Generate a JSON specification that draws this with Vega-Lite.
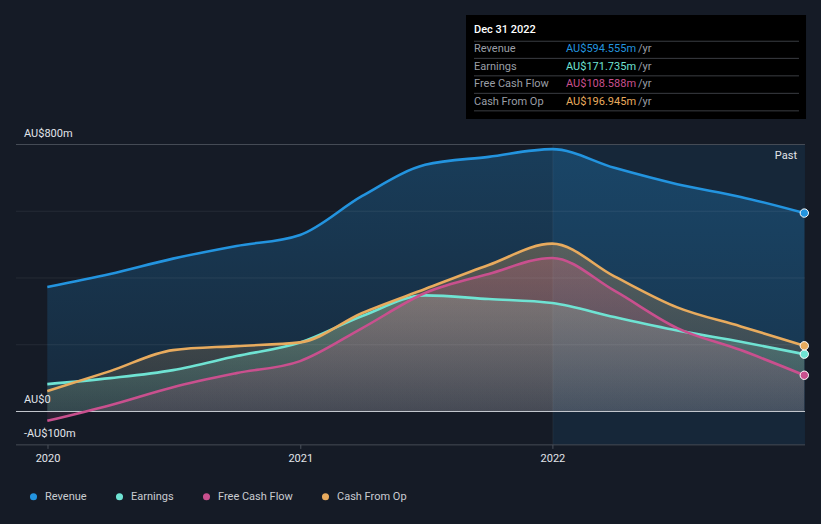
{
  "$schema": "https://vega.github.io/schema/vega-lite/v6.json",
  "width": 821,
  "height": 524,
  "autosize": {"type": "fit", "contains": "padding"},
  "padding": 0,
  "background": "#151b26",
  "config": {
    "view": {"stroke": null},
    "font": "Roboto",
    "locale": {"number": {"decimal": ".", "thousands": ",", "grouping": [3], "currency": ["AU$", "m"]}}
  },
  "datasets": {
    "fin": [
      {"date": "2019-12-31", "series": "Revenue", "value": 373},
      {"date": "2020-03-31", "series": "Revenue", "value": 412},
      {"date": "2020-06-30", "series": "Revenue", "value": 458},
      {"date": "2020-09-30", "series": "Revenue", "value": 496},
      {"date": "2020-12-31", "series": "Revenue", "value": 529},
      {"date": "2021-03-31", "series": "Revenue", "value": 646},
      {"date": "2021-06-30", "series": "Revenue", "value": 739},
      {"date": "2021-09-30", "series": "Revenue", "value": 763},
      {"date": "2021-12-31", "series": "Revenue", "value": 786},
      {"date": "2022-03-31", "series": "Revenue", "value": 730},
      {"date": "2022-06-30", "series": "Revenue", "value": 681},
      {"date": "2022-09-30", "series": "Revenue", "value": 643},
      {"date": "2022-12-31", "series": "Revenue", "value": 594.555},
      {"date": "2019-12-31", "series": "Earnings", "value": 82},
      {"date": "2020-03-31", "series": "Earnings", "value": 100},
      {"date": "2020-06-30", "series": "Earnings", "value": 124},
      {"date": "2020-09-30", "series": "Earnings", "value": 166},
      {"date": "2020-12-31", "series": "Earnings", "value": 207},
      {"date": "2021-03-31", "series": "Earnings", "value": 286},
      {"date": "2021-06-30", "series": "Earnings", "value": 348},
      {"date": "2021-09-30", "series": "Earnings", "value": 337},
      {"date": "2021-12-31", "series": "Earnings", "value": 325},
      {"date": "2022-03-31", "series": "Earnings", "value": 283},
      {"date": "2022-06-30", "series": "Earnings", "value": 243},
      {"date": "2022-09-30", "series": "Earnings", "value": 209},
      {"date": "2022-12-31", "series": "Earnings", "value": 171.735},
      {"date": "2019-12-31", "series": "Free Cash Flow", "value": -28},
      {"date": "2020-03-31", "series": "Free Cash Flow", "value": 19},
      {"date": "2020-06-30", "series": "Free Cash Flow", "value": 73},
      {"date": "2020-09-30", "series": "Free Cash Flow", "value": 115},
      {"date": "2020-12-31", "series": "Free Cash Flow", "value": 151},
      {"date": "2021-03-31", "series": "Free Cash Flow", "value": 250},
      {"date": "2021-06-30", "series": "Free Cash Flow", "value": 355},
      {"date": "2021-09-30", "series": "Free Cash Flow", "value": 412},
      {"date": "2021-12-31", "series": "Free Cash Flow", "value": 460},
      {"date": "2022-03-31", "series": "Free Cash Flow", "value": 362},
      {"date": "2022-06-30", "series": "Free Cash Flow", "value": 250},
      {"date": "2022-09-30", "series": "Free Cash Flow", "value": 184},
      {"date": "2022-12-31", "series": "Free Cash Flow", "value": 108.588},
      {"date": "2019-12-31", "series": "Cash From Op", "value": 61},
      {"date": "2020-03-31", "series": "Cash From Op", "value": 121},
      {"date": "2020-06-30", "series": "Cash From Op", "value": 184},
      {"date": "2020-09-30", "series": "Cash From Op", "value": 196},
      {"date": "2020-12-31", "series": "Cash From Op", "value": 207},
      {"date": "2021-03-31", "series": "Cash From Op", "value": 295},
      {"date": "2021-06-30", "series": "Cash From Op", "value": 367},
      {"date": "2021-09-30", "series": "Cash From Op", "value": 439},
      {"date": "2021-12-31", "series": "Cash From Op", "value": 503},
      {"date": "2022-03-31", "series": "Cash From Op", "value": 405},
      {"date": "2022-06-30", "series": "Cash From Op", "value": 312},
      {"date": "2022-09-30", "series": "Cash From Op", "value": 255},
      {"date": "2022-12-31", "series": "Cash From Op", "value": 196.945}
    ],
    "grid": [
      {"v": -100, "label": "-AU$100m"},
      {"v": 0, "label": "AU$0"},
      {"v": 200, "label": ""},
      {"v": 400, "label": ""},
      {"v": 600, "label": ""},
      {"v": 800, "label": "AU$800m"}
    ],
    "xticks": [
      {"date": "2020-01-01", "label": "2020"},
      {"date": "2021-01-01", "label": "2021"},
      {"date": "2022-01-01", "label": "2022"}
    ],
    "one": [{}]
  },
  "layer": [
    {
      "data": {"name": "one"},
      "mark": {"type": "rect", "color": "#2394df", "opacity": 0.1},
      "encoding": {
        "x": {"datum": {"year": 2022, "month": 1, "date": 1, "utc": true}, "type": "temporal",
              "scale": {"domain": [{"year": 2019, "month": 10, "date": 23, "hours": 12, "minutes": 7, "utc": true}, {"year": 2023, "month": 1, "date": 24, "hours": 4, "utc": true}], "nice": false},
              "axis": null},
        "x2": {"datum": {"year": 2023, "month": 1, "date": 1, "utc": true}},
        "y": {"datum": -100, "type": "quantitative", "scale": {"domain": [-337.08, 1232.96], "nice": false, "zero": false}, "axis": null},
        "y2": {"datum": 800}
      }
    },
    {
      "data": {"name": "fin"},
      "transform": [{"filter": "datum.series === 'Revenue'"}],
      "mark": {"type": "area", "interpolate": "monotone",
               "color": {"gradient": "linear", "x1": 0, "y1": 0, "x2": 0, "y2": 1,
                         "stops": [{"offset": 0, "color": "rgba(35,148,223,0.28)"}, {"offset": 1, "color": "rgba(35,148,223,0.12)"}]}},
      "encoding": {
        "x": {"field": "date", "type": "temporal"},
        "y": {"field": "value", "type": "quantitative", "stack": null}
      }
    },
    {
      "data": {"name": "fin"},
      "transform": [{"filter": "datum.series === 'Earnings'"}],
      "mark": {"type": "area", "interpolate": "monotone",
               "color": {"gradient": "linear", "x1": 0, "y1": 0, "x2": 0, "y2": 1,
                         "stops": [{"offset": 0, "color": "rgba(111,227,211,0.3)"}, {"offset": 1, "color": "rgba(111,227,211,0.1)"}]}},
      "encoding": {
        "x": {"field": "date", "type": "temporal"},
        "y": {"field": "value", "type": "quantitative", "stack": null}
      }
    },
    {
      "data": {"name": "fin"},
      "transform": [{"filter": "datum.series === 'Free Cash Flow'"}],
      "mark": {"type": "area", "interpolate": "monotone",
               "color": {"gradient": "linear", "x1": 0, "y1": 0, "x2": 0, "y2": 1,
                         "stops": [{"offset": 0, "color": "rgba(201,80,142,0.3)"}, {"offset": 1, "color": "rgba(201,80,142,0.1)"}]}},
      "encoding": {
        "x": {"field": "date", "type": "temporal"},
        "y": {"field": "value", "type": "quantitative", "stack": null}
      }
    },
    {
      "data": {"name": "fin"},
      "transform": [{"filter": "datum.series === 'Cash From Op'"}],
      "mark": {"type": "area", "interpolate": "monotone",
               "color": {"gradient": "linear", "x1": 0, "y1": 0, "x2": 0, "y2": 1,
                         "stops": [{"offset": 0, "color": "rgba(232,171,94,0.3)"}, {"offset": 1, "color": "rgba(232,171,94,0.1)"}]}},
      "encoding": {
        "x": {"field": "date", "type": "temporal"},
        "y": {"field": "value", "type": "quantitative", "stack": null}
      }
    },
    {
      "data": {"name": "one"},
      "mark": {"type": "rule", "color": "#ffffff", "opacity": 0.06, "strokeWidth": 1},
      "encoding": {
        "x": {"datum": {"year": 2022, "month": 1, "date": 1, "utc": true}, "type": "temporal"},
        "y": {"datum": -100, "type": "quantitative"},
        "y2": {"datum": 800}
      }
    },
    {
      "data": {"name": "grid"},
      "mark": {"type": "rule", "strokeWidth": 1},
      "encoding": {
        "x": {"datum": {"year": 2019, "month": 11, "date": 15, "hours": 16, "utc": true}, "type": "temporal"},
        "x2": {"datum": {"year": 2023, "month": 1, "date": 1, "utc": true}},
        "y": {"field": "v", "type": "quantitative"},
        "color": {"condition": [{"test": "datum.v === 0", "value": "#c5c9cf"}, {"test": "datum.v === 800 || datum.v === -100", "value": "#454b55"}], "value": "#ffffff"},
        "opacity": {"condition": {"test": "datum.v === 0 || datum.v === 800 || datum.v === -100", "value": 1}, "value": 0.07}
      }
    },
    {
      "data": {"name": "fin"},
      "mark": {"type": "line", "interpolate": "monotone", "strokeWidth": 2.6},
      "encoding": {
        "x": {"field": "date", "type": "temporal"},
        "y": {"field": "value", "type": "quantitative"},
        "color": {
          "field": "series", "type": "nominal",
          "scale": {"domain": ["Revenue", "Earnings", "Free Cash Flow", "Cash From Op"], "range": ["#2394df", "#6fe3d3", "#c9508e", "#e8ab5e"]},
          "legend": {
            "orient": "none", "legendX": 28, "legendY": 491, "direction": "horizontal", "title": null,
            "symbolType": "circle", "symbolSize": 50, "symbolStrokeWidth": 0,
            "labelFontSize": 11, "labelColor": "#c9ccd1", "labelFont": "Roboto",
            "columnPadding": 27, "labelOffset": 6, "padding": 0,
            "encode": {"symbols": {"update": {"fill": {"scale": "color", "field": "value"}, "fillOpacity": {"value": 1}, "stroke": {"value": "transparent"}}}}
          }
        }
      }
    },
    {
      "data": {"name": "fin"},
      "transform": [{"filter": "utcyear(datum.date) === 2022 && utcmonth(datum.date) === 11 && utcdate(datum.date) === 31"}],
      "mark": {"type": "circle", "size": 70, "stroke": "#ffffff", "strokeWidth": 1, "opacity": 1},
      "encoding": {
        "x": {"field": "date", "type": "temporal"},
        "y": {"field": "value", "type": "quantitative"},
        "color": {"field": "series", "type": "nominal"}
      }
    },
    {
      "data": {"name": "grid"},
      "transform": [{"filter": "datum.label !== ''"}],
      "mark": {"type": "text", "align": "left", "baseline": "alphabetic", "dy": -8, "fontSize": 11, "color": "#e2e5ea", "font": "Roboto"},
      "encoding": {
        "x": {"datum": {"year": 2019, "month": 11, "date": 27, "hours": 6, "utc": true}, "type": "temporal"},
        "y": {"field": "v", "type": "quantitative"},
        "text": {"field": "label"}
      }
    },
    {
      "data": {"name": "xticks"},
      "mark": {"type": "rule", "color": "#4b515b", "strokeWidth": 1},
      "encoding": {
        "x": {"field": "date", "type": "temporal"},
        "y": {"datum": -100, "type": "quantitative"},
        "y2": {"datum": -112}
      }
    },
    {
      "data": {"name": "xticks"},
      "mark": {"type": "text", "align": "center", "baseline": "alphabetic", "dy": 17, "fontSize": 11, "color": "#e2e5ea", "font": "Roboto"},
      "encoding": {
        "x": {"field": "date", "type": "temporal"},
        "y": {"datum": -100, "type": "quantitative"},
        "text": {"field": "label"}
      }
    },
    {
      "data": {"name": "one"},
      "mark": {"type": "text", "text": "Past", "align": "right", "baseline": "middle", "fontSize": 11, "color": "#e2e5ea", "font": "Roboto"},
      "encoding": {
        "x": {"datum": {"year": 2022, "month": 12, "date": 20, "hours": 10, "utc": true}, "type": "temporal"},
        "y": {"datum": 765.5, "type": "quantitative"}
      }
    },
    {
      "data": {"name": "one"},
      "mark": {"type": "rect", "color": "#000000", "opacity": 1},
      "encoding": {
        "x": {"datum": {"year": 2021, "month": 8, "date": 28, "hours": 4, "minutes": 34, "utc": true}, "type": "temporal"},
        "x2": {"datum": {"year": 2023, "month": 1, "date": 2, "hours": 11, "utc": true}},
        "y": {"datum": 1188.0, "type": "quantitative"},
        "y2": {"datum": 876.4}
      }
    },
    {
      "data": {"name": "one"},
      "mark": {"type": "text", "text": "Dec 31 2022", "align": "left", "baseline": "middle", "fontSize": 11, "fontWeight": 500, "color": "#ffffff", "font": "Roboto"},
      "encoding": {
        "x": {"datum": {"year": 2021, "month": 9, "date": 8, "hours": 18, "minutes": 30, "utc": true}, "type": "temporal"},
        "y": {"datum": 1143.8, "type": "quantitative"}
      }
    },
    {
      "data": {"name": "one"},
      "mark": {"type": "rule", "color": "#3a3d43", "strokeWidth": 1},
      "encoding": {
        "x": {"datum": {"year": 2021, "month": 9, "date": 8, "hours": 18, "minutes": 30, "utc": true}, "type": "temporal"},
        "x2": {"datum": {"year": 2022, "month": 12, "date": 23, "hours": 7, "utc": true}},
        "y": {"datum": 1109.4, "type": "quantitative"}
      }
    },
    {
      "data": {"name": "one"},
      "mark": {"type": "rule", "color": "#3a3d43", "strokeWidth": 1},
      "encoding": {
        "x": {"datum": {"year": 2021, "month": 9, "date": 8, "hours": 18, "minutes": 30, "utc": true}, "type": "temporal"},
        "x2": {"datum": {"year": 2022, "month": 12, "date": 23, "hours": 7, "utc": true}},
        "y": {"datum": 1058.1, "type": "quantitative"}
      }
    },
    {
      "data": {"name": "one"},
      "mark": {"type": "rule", "color": "#3a3d43", "strokeWidth": 1},
      "encoding": {
        "x": {"datum": {"year": 2021, "month": 9, "date": 8, "hours": 18, "minutes": 30, "utc": true}, "type": "temporal"},
        "x2": {"datum": {"year": 2022, "month": 12, "date": 23, "hours": 7, "utc": true}},
        "y": {"datum": 1005.7, "type": "quantitative"}
      }
    },
    {
      "data": {"name": "one"},
      "mark": {"type": "rule", "color": "#3a3d43", "strokeWidth": 1},
      "encoding": {
        "x": {"datum": {"year": 2021, "month": 9, "date": 8, "hours": 18, "minutes": 30, "utc": true}, "type": "temporal"},
        "x2": {"datum": {"year": 2022, "month": 12, "date": 23, "hours": 7, "utc": true}},
        "y": {"datum": 953.3, "type": "quantitative"}
      }
    },
    {
      "data": {"name": "one"},
      "mark": {"type": "rule", "color": "#3a3d43", "strokeWidth": 1},
      "encoding": {
        "x": {"datum": {"year": 2021, "month": 9, "date": 8, "hours": 18, "minutes": 30, "utc": true}, "type": "temporal"},
        "x2": {"datum": {"year": 2022, "month": 12, "date": 23, "hours": 7, "utc": true}},
        "y": {"datum": 900.8, "type": "quantitative"}
      }
    },
    {
      "data": {"name": "one"},
      "mark": {"type": "text", "text": ["Revenue", "Earnings", "Free Cash Flow", "Cash From Op"], "lineHeight": 17.5, "align": "left", "baseline": "top", "fontSize": 11, "color": "#9a9ea6", "font": "Roboto"},
      "encoding": {
        "x": {"datum": {"year": 2021, "month": 9, "date": 8, "hours": 18, "minutes": 30, "utc": true}, "type": "temporal"},
        "y": {"datum": 1103.2, "type": "quantitative"}
      }
    },
    {
      "data": {"name": "one"},
      "mark": {"type": "text", "text": ["/yr", "/yr", "/yr", "/yr"], "lineHeight": 17.5, "align": "left", "baseline": "top", "fontSize": 11, "color": "#9a9ea6", "font": "Roboto"},
      "encoding": {
        "x": {"datum": {"year": 2022, "month": 5, "date": 4, "hours": 5, "utc": true}, "type": "temporal"},
        "y": {"datum": 1103.2, "type": "quantitative"}
      }
    },
    {
      "data": {"name": "fin"},
      "transform": [{"filter": "datum.series === 'Revenue' && utcyear(datum.date) === 2022 && utcmonth(datum.date) === 11 && utcdate(datum.date) === 31"}],
      "mark": {"type": "text", "align": "left", "baseline": "middle", "fontSize": 11, "font": "Roboto"},
      "encoding": {
        "x": {"datum": {"year": 2022, "month": 1, "date": 20, "utc": true}, "type": "temporal"},
        "y": {"datum": 1085.2, "type": "quantitative"},
        "color": {"field": "series", "type": "nominal"},
        "text": {"field": "value", "type": "quantitative", "format": "$.3f"}
      }
    },
    {
      "data": {"name": "fin"},
      "transform": [{"filter": "datum.series === 'Earnings' && utcyear(datum.date) === 2022 && utcmonth(datum.date) === 11 && utcdate(datum.date) === 31"}],
      "mark": {"type": "text", "align": "left", "baseline": "middle", "fontSize": 11, "font": "Roboto"},
      "encoding": {
        "x": {"datum": {"year": 2022, "month": 1, "date": 20, "utc": true}, "type": "temporal"},
        "y": {"datum": 1032.8, "type": "quantitative"},
        "color": {"field": "series", "type": "nominal"},
        "text": {"field": "value", "type": "quantitative", "format": "$.3f"}
      }
    },
    {
      "data": {"name": "fin"},
      "transform": [{"filter": "datum.series === 'Free Cash Flow' && utcyear(datum.date) === 2022 && utcmonth(datum.date) === 11 && utcdate(datum.date) === 31"}],
      "mark": {"type": "text", "align": "left", "baseline": "middle", "fontSize": 11, "font": "Roboto"},
      "encoding": {
        "x": {"datum": {"year": 2022, "month": 1, "date": 20, "utc": true}, "type": "temporal"},
        "y": {"datum": 980.3, "type": "quantitative"},
        "color": {"field": "series", "type": "nominal"},
        "text": {"field": "value", "type": "quantitative", "format": "$.3f"}
      }
    },
    {
      "data": {"name": "fin"},
      "transform": [{"filter": "datum.series === 'Cash From Op' && utcyear(datum.date) === 2022 && utcmonth(datum.date) === 11 && utcdate(datum.date) === 31"}],
      "mark": {"type": "text", "align": "left", "baseline": "middle", "fontSize": 11, "font": "Roboto"},
      "encoding": {
        "x": {"datum": {"year": 2022, "month": 1, "date": 20, "utc": true}, "type": "temporal"},
        "y": {"datum": 927.9, "type": "quantitative"},
        "color": {"field": "series", "type": "nominal"},
        "text": {"field": "value", "type": "quantitative", "format": "$.3f"}
      }
    }
  ]
}
